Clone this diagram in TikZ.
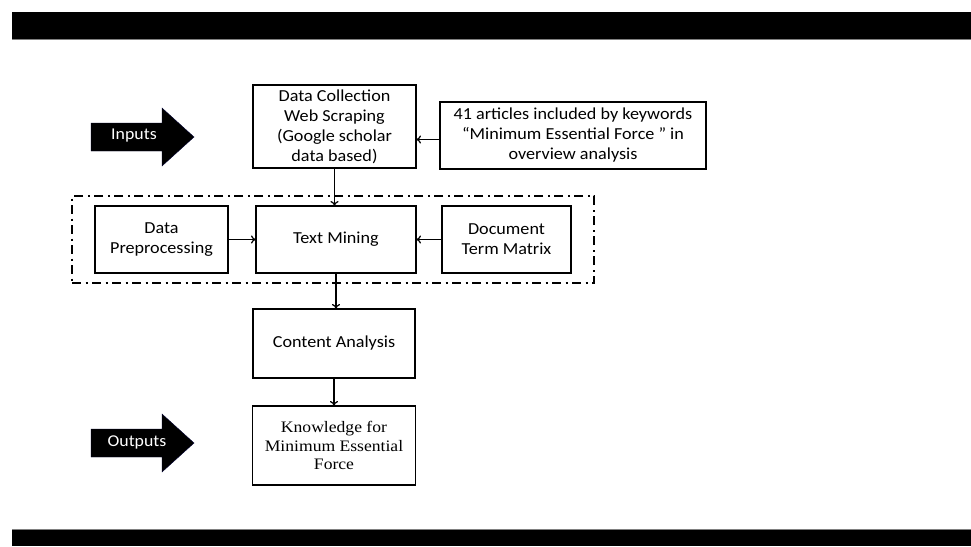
\documentclass[tikz,border=0pt]{standalone}
\usepackage{fontspec}
\setmainfont{Carlito}[FakeStretch=1.08]
\newfontfamily\serifbox{Liberation Serif}[FakeStretch=1.1]
\usetikzlibrary{positioning,fit,arrows.meta}
\tikzstyle{block} = [rectangle,draw=black,line width=1.8pt,align=center,inner sep=1pt,outer sep=0pt,font=\fontsize{16.8}{20}\selectfont]
\tikzstyle{link} = [-{To[length=5pt,width=8pt]},line width=1.2pt]
\tikzstyle{fatarrow} = [fill=black,draw=black!80!blue,line width=0.4pt]

\begin{document}
\begin{tikzpicture}[x=1pt,y=-1pt]
\useasboundingbox (0,0) rectangle (971,546);

% Bars
\fill[black] (12,12) rectangle (971,39);
\draw[gray,line width=0.8pt] (12,39.4) -- (971,39.4);
\fill[black] (12,530) rectangle (971,546);
\draw[gray,line width=0.8pt] (12,529.6) -- (971,529.6);

% Define nodes
\node[block, minimum width=163pt, minimum height=83pt] (dc) at (334.5,126.5) {Data Collection\\Web Scraping\\(Google scholar\\data based)};
\node[block, minimum width=266pt, minimum height=67pt, right = 24pt of dc, yshift=-9pt] (art) {41 articles included by keywords\\``Minimum Essential Force '' in\\overview analysis};
\node[block, minimum width=160pt, minimum height=67pt, below = 38pt of dc, xshift=1.5pt] (tm) {Text Mining};
\node[block, minimum width=133pt, minimum height=67pt, left = 28pt of tm] (dp) {Data\\Preprocessing};
\node[block, minimum width=129pt, minimum height=67pt, right = 26pt of tm] (dtm) {Document\\Term Matrix};
\node[block, minimum width=162pt, minimum height=69pt, below = 36pt of tm, xshift=-2pt] (ca) {Content Analysis};
\node[block, minimum width=163pt, minimum height=79pt, below = 28pt of ca, font=\serifbox\fontsize{16}{18.6}\selectfont] (kn) {Knowledge for\\Minimum Essential\\Force};

\node[draw, line width=1.6pt, dash pattern=on 9pt off 4.5pt on 2pt off 4.5pt, inner xsep=23pt, inner ysep=10pt, fit=(dp)(tm)(dtm)] (frame) {};

% In / out arrows
\fill[fatarrow] (91,123) -- (162,123) -- (162,108) -- (194,137) -- (162,166) -- (162,151) -- (91,151) -- cycle;
\node[text=white, font=\fontsize{16.5}{20}\selectfont] (inp) at (134,136) {Inputs};
\fill[fatarrow] (91,429) -- (162,429) -- (162,414) -- (194,443) -- (162,472) -- (162,457) -- (91,457) -- cycle;
\node[text=white, font=\fontsize{16.5}{20}\selectfont] (outp) at (137,442) {Outputs};

% Edges
\draw[link] ([yshift=-4pt]art.west) -- ([yshift=-4pt]art.west -| dc.east);
\draw[link] (dc.south) -- (dc.south |- tm.north);
\draw[link] (dp) -- (tm);
\draw[link] (dtm) -- (tm);
\draw[link] (tm.south) -- (tm.south |- ca.north);
\draw[link] (ca) -- (kn);
\end{tikzpicture}
\end{document}
